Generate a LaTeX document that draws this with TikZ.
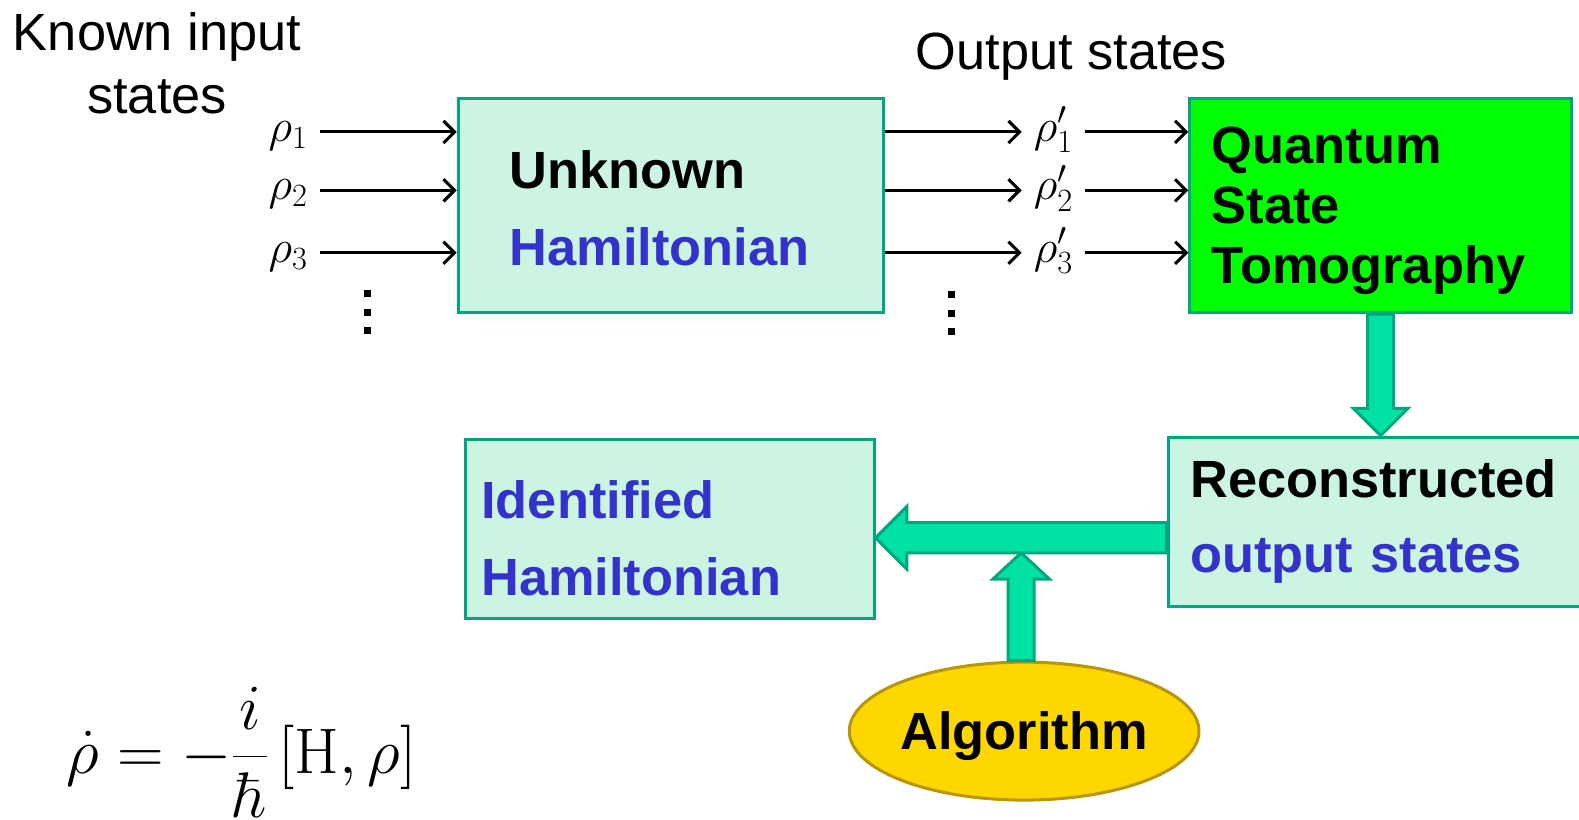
\RequirePackage{fix-cm}
\documentclass[tikz,border=0pt]{standalone}
\usepackage{amsmath}
\usepackage[no-math]{fontspec}
\setmainfont{Liberation Sans}
\usetikzlibrary{arrows.meta,calc,shapes.geometric}
\definecolor{boxline}{RGB}{0,166,126}
\definecolor{boxfill}{RGB}{204,244,226}
\definecolor{arrfill}{RGB}{0,226,164}
\definecolor{qstgreen}{RGB}{0,255,0}
\definecolor{hamblue}{RGB}{51,51,204}
\definecolor{algfill}{RGB}{255,215,0}
\definecolor{algline}{RGB}{184,150,10}

\begin{document}
\begin{tikzpicture}[x=1pt,y=-1pt,
    plainlbl/.style={font=\fontsize{52}{62}\selectfont, inner sep=0pt},
    statelbl/.style={font=\fontsize{46}{48}\selectfont, inner xsep=12pt, inner ysep=0pt, text height=19pt, text depth=0pt},
    thinarr/.style={line width=3pt, -{Straight Barb[length=11pt,width=22pt]}},
    hambox/.style={draw=boxline, fill=boxfill, line width=3pt, align=left, inner ysep=0pt},
    blockarr/.style={draw=boxline, fill=arrfill, line width=3pt, line join=miter}]
  \useasboundingbox (0,0) rectangle (1568,814);
  \clip (0,0) rectangle (1568,814);

  % boxes
  \node[hambox, minimum width=422, minimum height=213, text width=320, inner xsep=51pt, text height=43pt,
        font=\fontsize{52}{77}\selectfont\bfseries] (unk) at (666,204)
        {Unknown\\\textcolor{hamblue}{Hamiltonian}};
  \node[hambox, fill=qstgreen, minimum width=379, minimum height=213, text width=335, inner xsep=22pt, text height=47pt,
        font=\fontsize{52}{60}\selectfont\bfseries] (qst) at (1371,204)
        {Quantum\\State\\Tomography};
  \node[hambox, minimum width=420, minimum height=168, text width=376, inner xsep=22pt,
        font=\fontsize{52}{75}\selectfont\bfseries] (rec) at (1370,518)
        {Reconstructed\\\textcolor{hamblue}{output states}};
  \node[hambox, minimum width=406, minimum height=178, text width=374, inner xsep=16pt, text height=57pt,
        font=\fontsize{52}{77}\selectfont\bfseries] (idf) at (665,525)
        {\textcolor{hamblue}{Identified}\\\textcolor{hamblue}{Hamiltonian}};
  \node[ellipse, draw=algline, fill=algfill, line width=3pt, minimum width=346, minimum height=137,
        inner sep=0pt, text height=48pt, font=\fontsize{52}{60}\selectfont\bfseries] (alg) at (1017,726) {Algorithm};

  % titles
  \node[plainlbl, align=center] (known) at (156,63) {Known input\\states};
  \node[plainlbl] (outlbl) at (1064,56) {Output states};

  % input and output states
  \foreach \k/\yy in {1/131,2/189,3/251} {
    \node[statelbl] (in\k) at (286,\yy) {$\rho_{\k}$};
    \draw[thinarr] (in\k) -- (in\k -| unk.west);
    \node[statelbl] (out\k) at (1046,\yy) {$\rho'_{\k}$};
    \draw[thinarr] (unk.east |- out\k) -- (out\k);
    \draw[thinarr] (out\k) -- (out\k -| qst.west);
  }
  \foreach \d in {0,1,2} {
    \fill (361,288+\d*18.5) rectangle ++(7,7);
    \fill (941,289+\d*18.5) rectangle ++(7,7);
  }

  % block arrows
  \coordinate (da) at (qst.south);
  \coordinate (db) at (qst.south |- rec.north);
  \draw[blockarr] ($(da)+(-13,0)$) -- ($(db)+(-13,-27)$) -- ($(db)+(-27,-27)$) -- (db)
    -- ($(db)+(27,-27)$) -- ($(db)+(13,-27)$) -- ($(da)+(13,0)$) -- cycle;
  \coordinate (ls) at ($(rec.west)+(0,16)$);
  \coordinate (lt) at (ls -| idf.east);
  \draw[blockarr] ($(ls)+(0,-15)$) -- ($(lt)+(31,-15)$) -- ($(lt)+(31,-31)$) -- (lt)
    -- ($(lt)+(31,31)$) -- ($(lt)+(31,15)$) -- ($(ls)+(0,15)$) -- cycle;
  \coordinate (ua) at ($(alg.north)+(-3,0)$);
  \coordinate (ut) at ($(ls -| ua)+(0,15)$);
  \draw[blockarr] ($(ua)+(-13,0)$) -- ($(ut)+(-13,26)$) -- ($(ut)+(-28,26)$) -- (ut)
    -- ($(ut)+(28,26)$) -- ($(ut)+(13,26)$) -- ($(ua)+(13,0)$) -- cycle;

  % equation
  \node[font=\fontsize{64}{66}\selectfont, inner sep=0pt] (eqn) at (240,747)
    {$\dot\rho = -\dfrac{i}{\hbar}\,[\mathrm{H},\rho]$};
\end{tikzpicture}
\end{document}
